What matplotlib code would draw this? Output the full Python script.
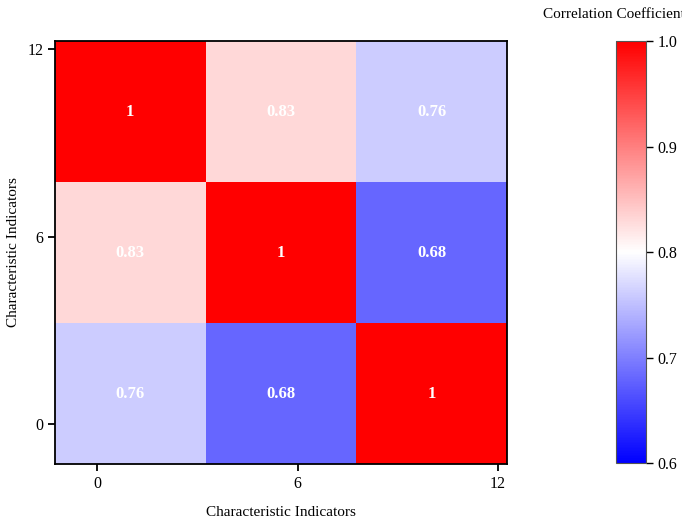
import numpy as np
import matplotlib.pyplot as plt

plt.rcParams['font.family'] = ['Liberation Serif', 'DejaVu Serif']

# correlation matrix, rows listed bottom to top
corr = np.array([
    [0.76, 0.68, 1.00],
    [0.83, 1.00, 0.68],
    [1.00, 0.83, 0.76],
])
labels = [['0.76', '0.68', '1'],
          ['0.83', '1', '0.68'],
          ['1', '0.83', '0.76']]
ticks = [0, 6, 12]
cbar_ticks = [0.6, 0.7, 0.8, 0.9, 1.0]

edges = np.linspace(-1.27, 12.27, 4)
centers = (edges[:-1] + edges[1:]) / 2

fig = plt.figure(figsize=(6.82, 5.23), dpi=100)
ax = fig.add_axes([0.0806, 0.1128, 0.6628, 0.8088])
cax = fig.add_axes([0.9028, 0.1147, 0.044, 0.8069])

mesh = ax.pcolormesh(edges, edges, corr, cmap='bwr', vmin=0.6, vmax=1.0)
for i in range(3):
    for j in range(3):
        ax.text(centers[j], centers[i] - 0.03, labels[i][j], ha='center', va='center',
                color='white', fontweight='bold', fontsize=12)

ax.set_xlim(edges[0], edges[-1])
ax.set_ylim(edges[0], edges[-1])
ax.set_xticks(ticks)
ax.set_yticks(ticks)
ax.tick_params(labelsize=11.5, width=1.3, length=5)
for s in ax.spines.values():
    s.set_linewidth(1.3)
ax.set_xlabel('Characteristic Indicators', fontsize=11, labelpad=10)
ax.set_ylabel('Characteristic Indicators', fontsize=11, labelpad=5)

cb = fig.colorbar(mesh, cax=cax, ticks=cbar_ticks)
cb.ax.set_yticklabels(['%.1f' % t for t in cbar_ticks])
cb.ax.tick_params(labelsize=11.5, width=1.0, length=5)
cb.outline.set_edgecolor('#555555')
fig.text(0.796, 0.972, 'Correlation Coefficient', fontsize=11, ha='left', va='center')

plt.savefig('out.png', dpi=100)
